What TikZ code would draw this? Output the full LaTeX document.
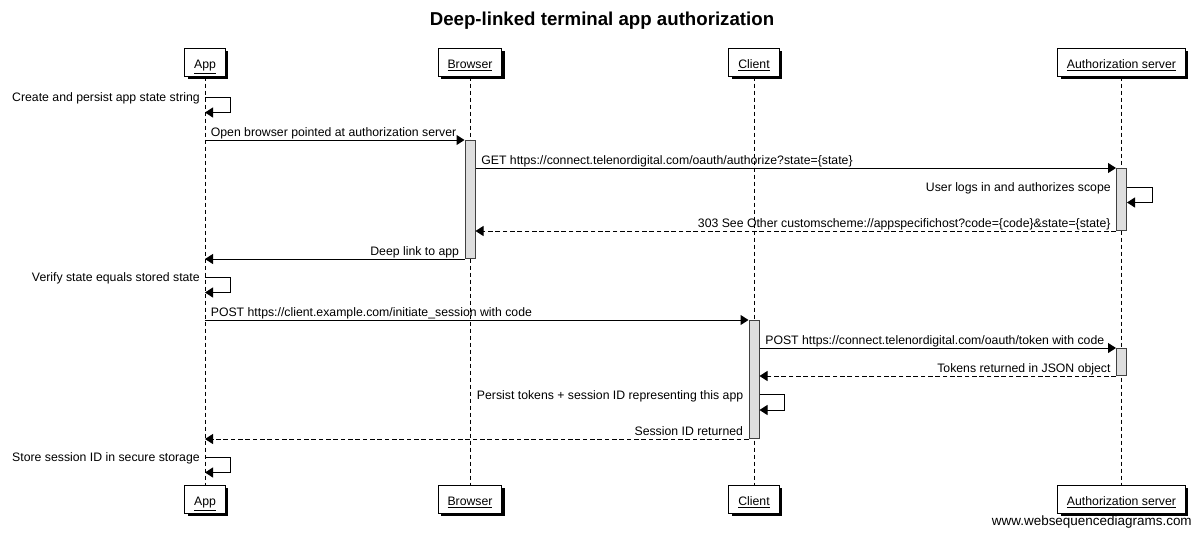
\documentclass[tikz,border=0pt]{standalone}
\usepackage{fontspec}
\setmainfont{Liberation Sans}
\usetikzlibrary{arrows.meta,shadows}
\begin{document}
\begin{tikzpicture}[x=0.75pt,y=-0.75pt,
  part/.style={draw=black, fill=white, line width=0.75pt, minimum height=21pt,
    inner xsep=7pt, inner ysep=0pt, text height=9.6pt, text depth=0pt,
    font=\fontsize{9.2}{11}\selectfont,
    drop shadow={shadow xshift=2.25pt, shadow yshift=-2.25pt, fill=black, opacity=1}},
  life/.style={draw=black, line width=0.75pt, dash pattern=on 3pt off 2.25pt},
  act/.style={draw=black!75, fill=black!13, line width=0.75pt, minimum width=7.5pt,
    inner sep=0pt, anchor=north},
  msg/.style={draw=black, line width=0.75pt, -{Triangle[length=6pt,width=7.5pt]}},
  ret/.style={msg, dash pattern=on 3.5pt off 2pt},
  lbl/.style={font=\fontsize{9.2}{11}\selectfont, inner sep=0pt},
  lblr/.style={lbl, at start, anchor=base west, xshift=4pt, yshift=3pt},
  lbll/.style={lbl, at start, anchor=base east, xshift=-3.75pt, yshift=3pt},
  slbl/.style={lbl, anchor=base east, xshift=-3.75pt, yshift=-3.6pt}
]
\useasboundingbox (0,0) rectangle (1200,537);

% title
\node[font=\bfseries\fontsize{14}{17}\selectfont, inner sep=0pt] (title) at (602,20.5)
  {Deep-linked terminal app authorization};

% participants
\node[part] (A) at (205,62) {\underline{App}};
\node[part] (B) at (470,62) {\underline{Browser}};
\node[part] (C) at (754,62) {\underline{Client}};
\node[part] (S) at (1121.5,62) {\underline{Authorization server}};
\node[part] (A2) at (205,499) {\underline{App}};
\node[part] (B2) at (470,499) {\underline{Browser}};
\node[part] (C2) at (754,499) {\underline{Client}};
\node[part] (S2) at (1121.5,499) {\underline{Authorization server}};

% lifelines
\draw[life] (A) -- (A2);
\draw[life] (B) -- (B2);
\draw[life] (C) -- (C2);
\draw[life] (S) -- (S2);

% activation bars
\node[act, minimum height=88.5pt] (bB) at (470,140) {};
\node[act, minimum height=46.5pt] (bS1) at (1121.5,168) {};
\node[act, minimum height=88.5pt] (bC) at (754,320) {};
\node[act, minimum height=20.25pt] (bS2) at (1121.5,348) {};

% 1 self: create state
\coordinate (s1) at (A |- 0,97);
\coordinate (s1e) at (A |- 0,112.5);
\draw[msg] (s1) -- ++(25,0) |- (s1e);
\node[slbl] at (s1) {Create and persist app state string};

% 2 open browser
\draw[msg] (A |- bB.north west) -- node[lblr] {Open browser pointed at authorization server} (bB.north west);

% 3 GET
\draw[msg] (bS1.north west -| bB.east) -- node[lblr] {GET https://connect.telenordigital.com/oauth/authorize?state=\{state\}} (bS1.north west);

% 4 self: user logs in
\coordinate (s2) at (bS1.east |- 0,187);
\coordinate (s2e) at (bS1.east |- 0,202.5);
\coordinate (s2l) at (bS1.west |- 0,187);
\draw[msg] (s2) -- ++(25,0) |- (s2e);
\node[slbl] at (s2l) {User logs in and authorizes scope};

% 5 303
\draw[ret] (bS1.south west) -- node[lbll] {303 See Other customscheme://appspecifichost?code=\{code\}\&state=\{state\}} (bS1.south west -| bB.east);

% 6 deep link
\draw[msg] (bB.south west) -- node[lbll] {Deep link to app} (bB.south west -| A);

% 7 self: verify
\coordinate (s3) at (A |- 0,277);
\coordinate (s3e) at (A |- 0,292.5);
\draw[msg] (s3) -- ++(25,0) |- (s3e);
\node[slbl] at (s3) {Verify state equals stored state};

% 8 POST initiate
\draw[msg] (A |- bC.north west) -- node[lblr] {POST https://client.example.com/initiate\_session with code} (bC.north west);

% 9 POST token
\draw[msg] (bS2.north west -| bC.east) -- node[lblr] {POST https://connect.telenordigital.com/oauth/token with code} (bS2.north west);

% 10 tokens returned
\draw[ret] (bS2.south west) -- node[lbll] {Tokens returned in JSON object} (bS2.south west -| bC.east);

% 11 self: persist
\coordinate (s4) at (bC.east |- 0,394.5);
\coordinate (s4e) at (bC.east |- 0,410);
\coordinate (s4l) at (bC.west |- 0,394.5);
\draw[msg] (s4) -- ++(25,0) |- (s4e);
\node[slbl] at (s4l) {Persist tokens + session ID representing this app};

% 12 session id returned
\draw[ret] (bC.south west) -- node[lbll] {Session ID returned} (bC.south west -| A);

% 13 self: store
\coordinate (s5) at (A |- 0,457);
\coordinate (s5e) at (A |- 0,472.5);
\draw[msg] (s5) -- ++(25,0) |- (s5e);
\node[slbl] at (s5) {Store session ID in secure storage};

% footer
\node[font=\fontsize{10.1}{12}\selectfont, inner sep=0pt, anchor=east] (foot) at (1192,522)
  {www.websequencediagrams.com};
\end{tikzpicture}
\end{document}
